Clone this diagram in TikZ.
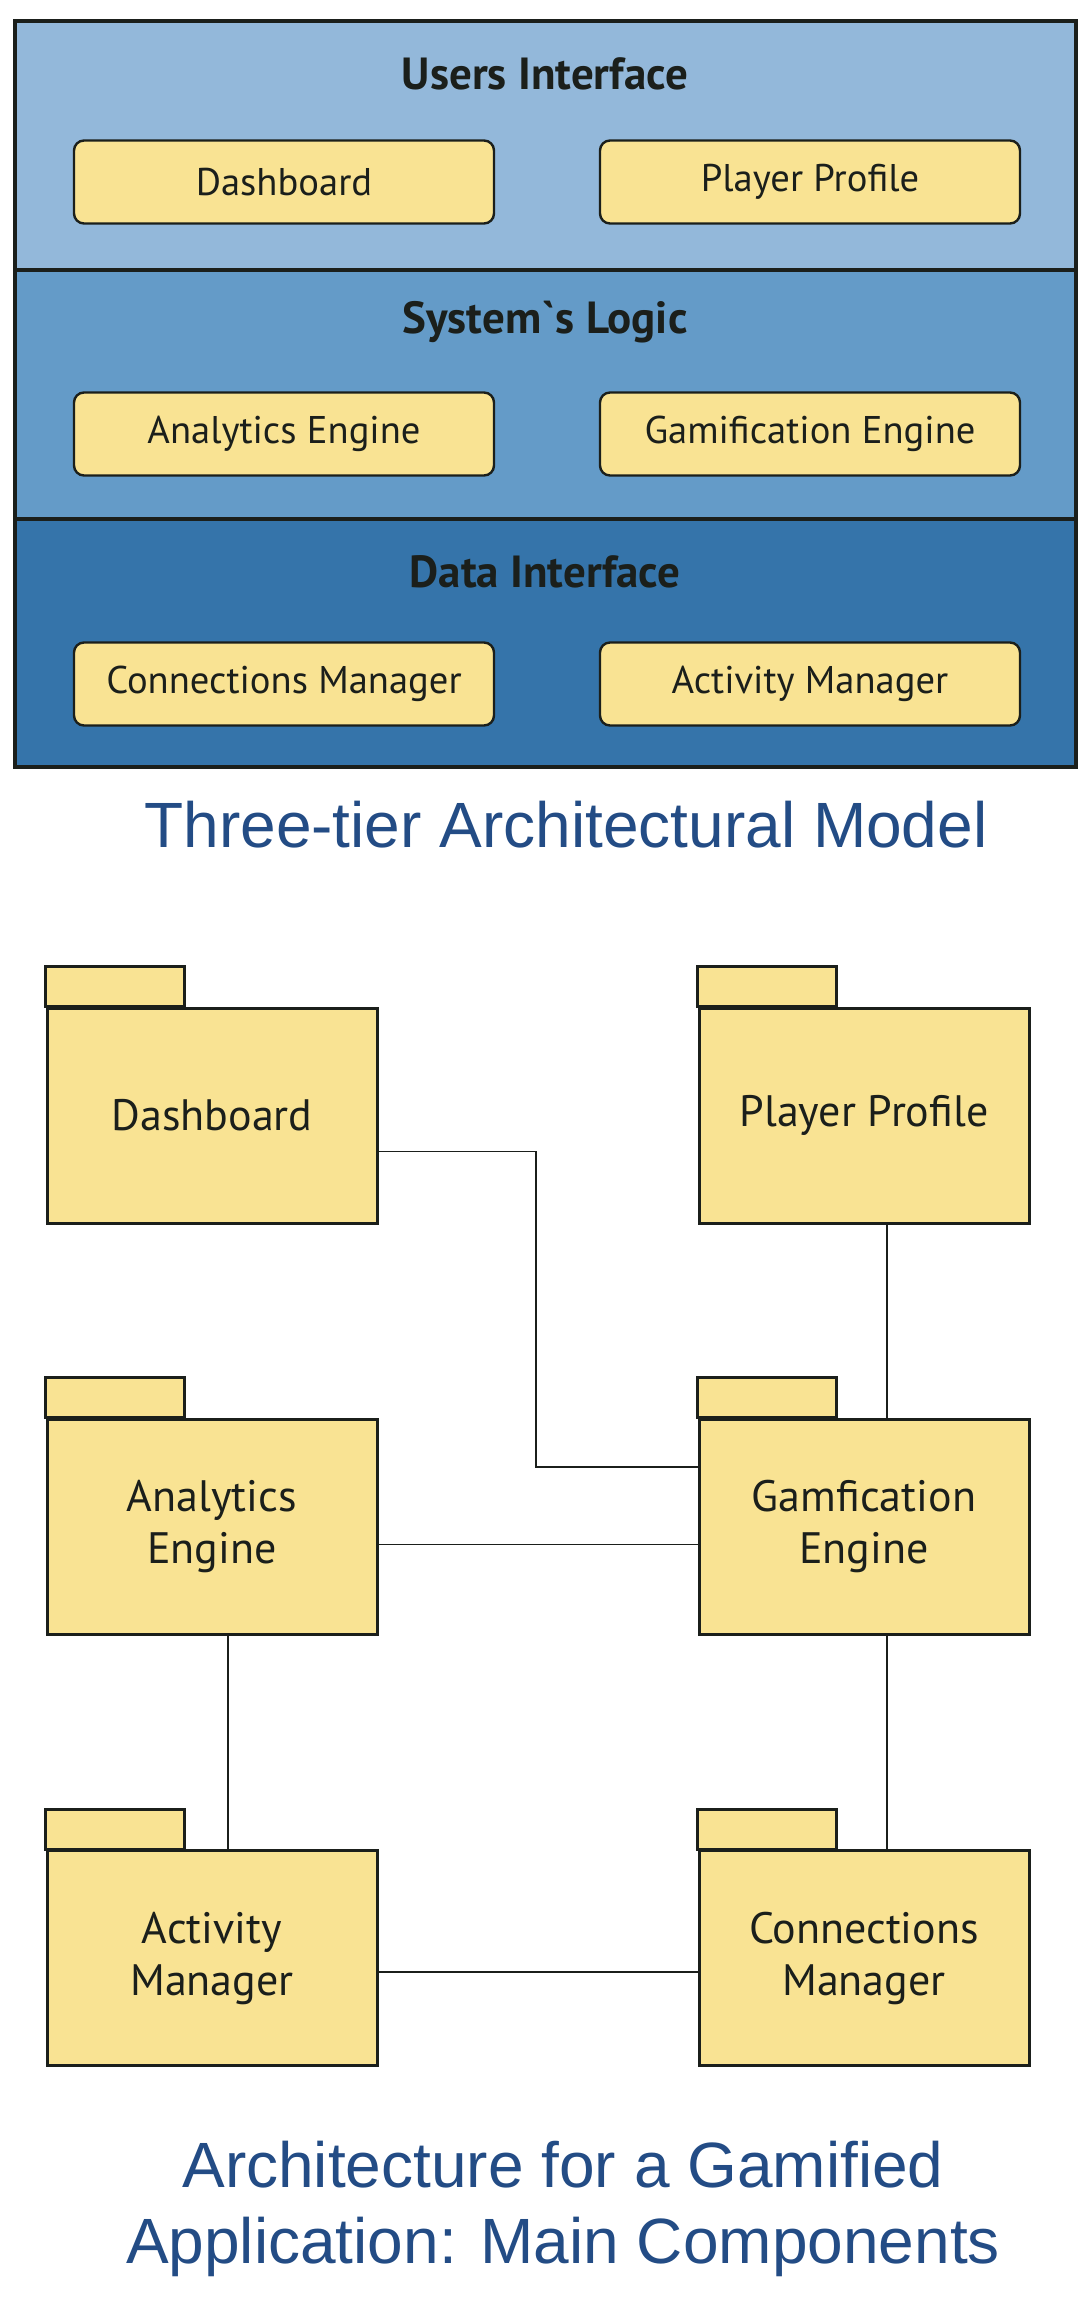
\documentclass[tikz,border=0pt]{standalone}
\usepackage{fontspec}
\setmainfont{PT Sans}
\newfontfamily\capfont{Liberation Sans}
\usetikzlibrary{positioning}

\definecolor{tierA}{HTML}{93B8DA}
\definecolor{tierB}{HTML}{649BC8}
\definecolor{tierC}{HTML}{3574AA}
\definecolor{boxfill}{HTML}{F9E393}
\definecolor{inkdark}{HTML}{1B1F1B}
\definecolor{capblue}{HTML}{234C85}

\begin{document}
\begin{tikzpicture}[x=0.5pt, y=-0.5pt,
    tier/.style={draw=inkdark, line width=1.6pt},
    tiertitle/.style={font=\fontsize{22.5}{26}\selectfont\bfseries, text=inkdark},
    module/.style={draw=inkdark, fill=boxfill, line width=1.2pt, rounded corners=5pt,
        minimum width=210pt, minimum height=41.5pt, font=\fontsize{19.3}{23}\selectfont, text=inkdark},
    package/.style={draw=inkdark, fill=boxfill, line width=1.5pt, minimum width=165pt,
        minimum height=107.5pt, align=center, font=\fontsize{22}{26}\selectfont, text=inkdark},
    tab/.style={draw=inkdark, fill=boxfill, line width=1.5pt},
    wire/.style={draw=inkdark, line width=0.8pt},
    caption/.style={font=\capfont\fontsize{32}{38}\selectfont, text=capblue, align=center}
]
    \useasboundingbox (0,0) rectangle (1082,2311);

    % three-tier stack
    \draw[tier, fill=tierA] (15,21) rectangle (1076,270);
    \draw[tier, fill=tierB] (15,270) rectangle (1076,519);
    \draw[tier, fill=tierC] (15,519) rectangle (1076,767);

    \node[tiertitle] (uititle) at (545,74) {Users Interface};
    \node[module] (uidash) at (284,182) {Dashboard};
    \node[module] (uiplay) at (810,182) {Player Profile};

    \node[tiertitle] (sltitle) at (545,322) {System\textasciigrave s Logic};
    \node[module] (slanal) at (284,434) {Analytics Engine};
    \node[module] (slgami) at (810,434) {Gamification Engine};

    \node[tiertitle] (dititle) at (545,572) {Data Interface};
    \node[module] (diconn) at (284,684) {Connections Manager};
    \node[module] (diact) at (810,684) {Activity Manager};

    \node[caption] (captop) at (566,825) {Three-tier Architectural Model};

    % component packages
    \node[package] (dash) at (212,1115.5) {Dashboard};
    \node[package] (play) at (864,1115.5) {Player Profile};
    \node[package] (anal) at (212,1526.5) {Analytics\\Engine};
    \node[package] (gami) at (864,1526.5) {Gamfication\\Engine};
    \node[package] (act) at (212,1958) {Activity\\Manager};
    \node[package] (conn) at (864,1958) {Connections\\Manager};

    \foreach \p in {dash,play,anal,gami,act,conn}
        \draw[tab] (\p.north west) rectangle ++(139,-40);

    % links
    \coordinate (bend) at (536,1467);
    \draw[wire] ([yshift=-18pt]dash.east) -| (bend) -- (bend -| gami.west);
    \coordinate (ag) at ([yshift=-9pt]anal.east);
    \draw[wire] (ag) -- (ag -| gami.west);
    \draw[wire] ([xshift=11.5pt]play.south) -- ([xshift=11.5pt]gami.north);
    \draw[wire] ([xshift=11.5pt]gami.south) -- ([xshift=11.5pt]conn.north);
    \draw[wire] ([xshift=8pt]anal.south) -- ([xshift=8pt]act.north);
    \coordinate (ac) at ([yshift=-7pt]act.east);
    \draw[wire] (ac) -- (ac -| conn.west);

    \node[caption] (capbot) at (563,2209) {Architecture for a Gamified\\Application: Main Components};
\end{tikzpicture}
\end{document}
